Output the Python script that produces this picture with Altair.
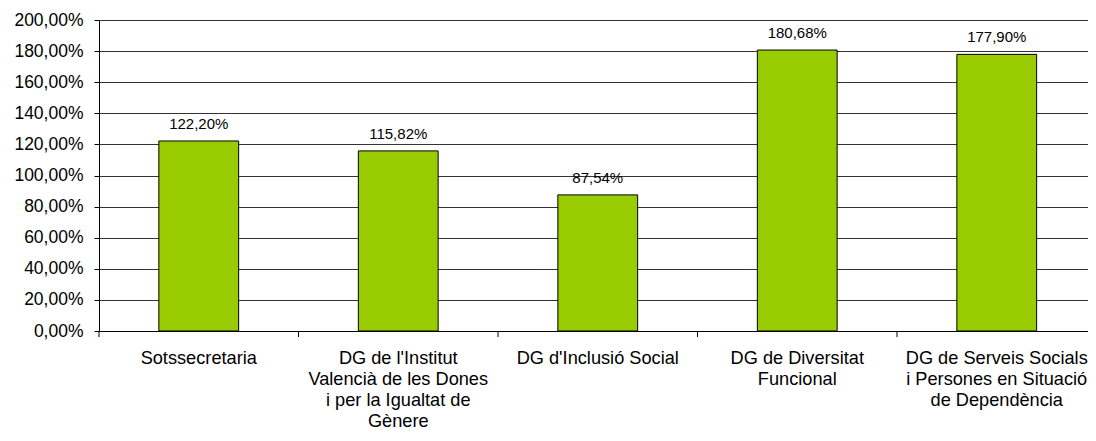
import altair as alt
import pandas as pd

categories = [
    "Sotssecretaria",
    "DG de l'Institut\nValencià de les Dones\ni per la Igualtat de\nGènere",
    "DG d'Inclusió Social",
    "DG de Diversitat\nFuncional",
    "DG de Serveis Socials\ni Persones en Situació\nde Dependència",
]
values = [122.20, 115.82, 87.54, 180.68, 177.90]
y_ticks = [0, 20, 40, 60, 80, 100, 120, 140, 160, 180, 200]
boundaries = [0, 1, 2, 3, 4, 5]

df = pd.DataFrame({"cat": categories, "val": values})
bdf = pd.DataFrame({"b": boundaries})

FONT = "Liberation Sans"
XRANGE = [0, 997.5]

x = alt.X(
    "cat:N",
    sort=None,
    title=None,
    scale=alt.Scale(paddingInner=0.6, paddingOuter=0.3, range=XRANGE),
    axis=alt.Axis(
        labelAngle=0,
        labelExpr="split(datum.value, '\\n')",
        labelFont=FONT,
        labelFontSize=18.2,
        labelColor="#000000",
        labelLineHeight=21,
        labelPadding=18,
        labelBaseline="top",
        ticks=False,
        domainColor="#000000",
        grid=False,
        labelLimit=400,
        orient="bottom",
    ),
)

y = alt.Y(
    "val:Q",
    title=None,
    scale=alt.Scale(domain=[0, 200], nice=False),
    axis=alt.Axis(
        values=y_ticks,
        labelExpr="replace(format(datum.value, '.2f'), '.', ',') + '%'",
        labelFont=FONT,
        labelFontSize=17.5,
        labelColor="#000000",
        labelPadding=11,
        tickSize=5,
        tickColor="#000000",
        domainColor="#000000",
        grid=True,
        gridColor="#333333",
        gridWidth=1,
    ),
)

bars = alt.Chart(df).mark_bar(
    color="#99CC00", stroke="#000000", strokeWidth=1
).encode(x=x, y=y)

text = alt.Chart(df).transform_calculate(
    lbl="replace(format(datum.val, '.2f'), '.', ',') + '%'"
).mark_text(
    font=FONT, fontSize=15, color="#000000", baseline="alphabetic", dy=-12
).encode(x=x, y=y, text="lbl:N")

ticks = alt.Chart(bdf).mark_rule(color="#000000", strokeWidth=1).encode(
    x=alt.X("b:Q", scale=alt.Scale(domain=[0, 5], nice=False, zero=False, range=XRANGE), axis=None),
    y=alt.value(311),
    y2=alt.value(317),
)

chart = (
    alt.layer(alt.layer(bars, text), ticks)
    .resolve_scale(x="independent")
    .properties(
        width=989,
        height=311,
        padding={"left": 91, "top": 12, "right": 0, "bottom": 102},
        autosize="none",
    )
    .configure_view(stroke=None)
    .configure(background="white")
)

chart.save("out.html", embed_options={"renderer": "svg", "actions": False})
